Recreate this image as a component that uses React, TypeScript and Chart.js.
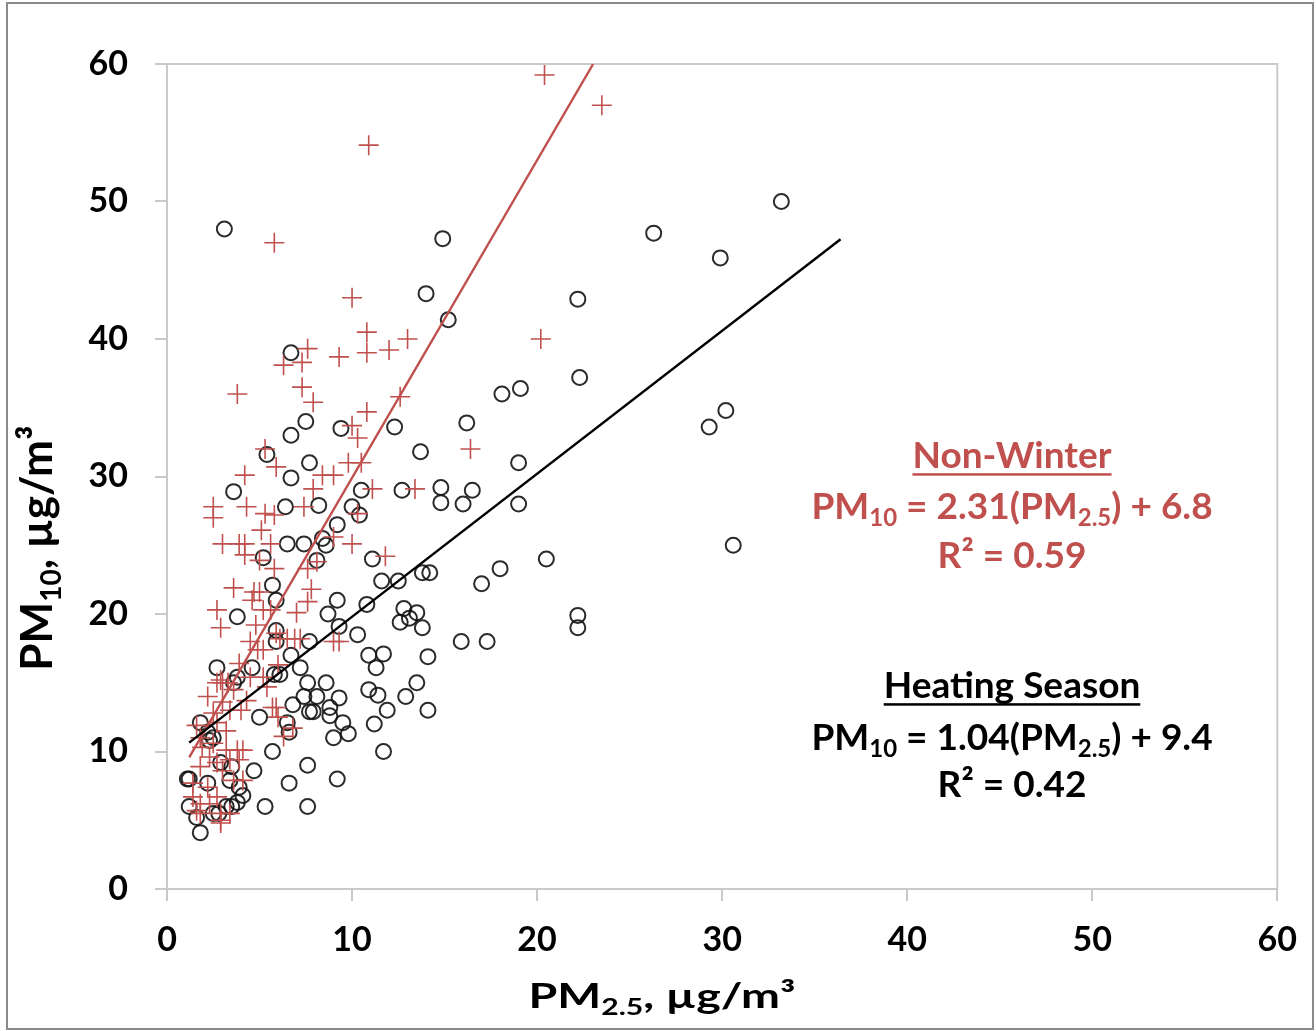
import React, { useEffect, useRef } from "react";
import { Chart, registerables } from "chart.js";

Chart.register(...registerables);

// ---------------- DATA ----------------
// Heating season (black circles)
const heatingPM25 = [
  3.1, 14.9, 26.3, 29.9, 33.2, 14.0, 22.2, 15.2, 6.7, 19.1, 18.1, 22.3, 7.5, 29.3, 30.2, 9.4, 12.3, 16.2, 13.7, 5.4,
  6.7, 6.7, 7.7, 19.0, 3.6, 10.5, 12.7, 14.8, 16.5, 16.0, 14.8, 19.0, 6.4, 8.2, 10.0, 10.4, 9.2, 8.4, 8.6, 7.4,
  6.5, 30.6, 20.5, 11.1, 5.2, 8.1, 13.8, 14.2, 18.0, 17.0, 12.5, 11.6, 5.7, 22.2, 22.2, 15.9, 17.3, 12.8, 13.5, 12.6,
  13.1, 13.8, 9.2, 10.8, 8.7, 9.3, 10.3, 7.7, 5.9, 3.8, 5.9, 5.9, 10.9, 11.7, 11.3, 14.1, 6.7, 7.2, 2.7, 4.6,
  5.8, 6.1, 3.8, 3.6, 7.6, 8.6, 7.4, 8.1, 9.3, 13.5, 12.9, 10.9, 11.4, 11.9, 14.1, 7.7, 7.9, 8.8, 8.8, 9.5,
  9.8, 9.0, 11.2, 11.7, 7.6, 9.2, 7.6, 6.8, 1.8, 5.0, 6.5, 6.6, 2.2, 5.7, 1.1, 1.2, 2.2, 2.9, 3.5, 4.7,
  6.6, 4.1, 3.8, 3.5, 3.2, 1.2, 1.6, 2.5, 2.8, 1.8, 5.3, 2.3, 2.5, 3.9, 3.4,
];
const heatingPM10 = [
  48.0, 47.3, 47.7, 45.9, 50.0, 43.3, 42.9, 41.4, 39.0, 36.4, 36.0, 37.2, 34.0, 33.6, 34.8, 33.5, 33.6, 33.9, 31.8, 31.6,
  33.0, 29.9, 31.0, 31.0, 28.9, 29.0, 29.0, 29.2, 29.0, 28.0, 28.1, 28.0, 27.8, 27.9, 27.8, 27.2, 26.5, 25.5, 25.0, 25.1,
  25.1, 25.0, 24.0, 24.0, 24.1, 23.9, 23.0, 23.0, 23.3, 22.2, 22.4, 22.4, 22.1, 19.9, 19.0, 18.0, 18.0, 20.4, 20.1, 19.4,
  19.7, 19.0, 21.0, 20.7, 20.0, 19.1, 18.5, 18.0, 21.0, 19.8, 18.8, 18.0, 17.0, 17.1, 16.1, 16.9, 17.0, 16.1, 16.1, 16.1,
  15.6, 15.6, 15.4, 15.0, 15.0, 15.0, 14.0, 14.0, 13.9, 15.0, 14.0, 14.5, 14.1, 13.0, 13.0, 12.9, 12.9, 13.2, 12.6, 12.1,
  11.3, 11.0, 12.0, 10.0, 9.0, 8.0, 6.0, 13.4, 12.1, 12.5, 12.1, 11.4, 11.4, 10.0, 8.0, 8.0, 7.7, 9.2, 8.9, 8.6,
  7.7, 6.8, 6.3, 6.0, 6.0, 6.0, 5.2, 5.5, 5.5, 4.1, 6.0, 10.8, 11.0, 7.4, 7.9,
];

// Non-winter (red crosses)
const nonWinterPM25 = [
  20.4, 23.5, 10.9, 5.8, 10.0, 20.2, 10.8, 10.8, 12.0, 13.0, 7.6, 6.3, 7.3, 9.3, 3.8, 7.3, 7.9, 12.6, 10.8, 10.0,
  10.3, 5.3, 5.9, 9.8, 10.5, 4.2, 8.4, 9.0, 7.9, 11.1, 2.5, 2.5, 4.3, 5.3, 5.8, 7.4, 10.3, 3.0, 3.9, 4.2,
  5.6, 9.0, 10.0, 16.4, 13.4, 11.8, 4.2, 5.0, 5.8, 7.6, 8.1, 3.6, 4.7, 5.0, 2.7, 2.9, 5.2, 5.6, 7.0, 7.6,
  5.9, 6.1, 6.5, 6.9, 7.2, 9.0, 9.3, 4.5, 4.9, 5.2, 3.9, 2.9, 2.7, 3.0, 3.3, 3.6, 4.5, 5.2, 5.4, 4.3,
  3.0, 4.0, 3.4, 5.7, 5.9, 6.0, 6.8, 6.3, 1.6, 2.7, 1.8, 1.9, 2.5, 3.2, 3.8, 4.1, 2.3, 2.7, 3.4, 3.9,
  1.8, 3.0, 1.4, 2.2, 3.6, 4.1, 1.4, 1.8, 2.3, 2.7, 1.6, 1.8, 2.9, 2.9, 3.4, 2.9, 5.1, 4.6, 6.0, 4.8,
  7.8, 2.2, 2.5, 3.2,
];
const nonWinterPM10 = [
  59.2, 57.0, 54.1, 47.0, 43.0, 40.0, 40.5, 39.0, 39.2, 40.0, 39.3, 38.1, 38.3, 38.7, 36.0, 36.5, 35.4, 35.8, 34.7, 33.7,
  32.8, 32.0, 30.7, 31.0, 31.0, 30.1, 30.1, 30.1, 29.1, 29.1, 27.8, 27.0, 27.8, 27.3, 27.2, 27.8, 27.3, 25.1, 25.1, 25.1,
  25.1, 25.6, 25.1, 32.0, 29.1, 24.2, 24.3, 23.9, 23.3, 23.3, 23.8, 21.9, 21.6, 21.6, 20.3, 19.0, 20.3, 20.3, 20.1, 20.9,
  18.6, 18.2, 18.2, 18.2, 18.2, 18.0, 18.0, 18.0, 17.4, 17.4, 16.4, 15.2, 15.0, 15.0, 15.0, 14.5, 15.4, 15.4, 14.7, 13.7,
  13.6, 13.0, 13.0, 13.2, 13.2, 12.5, 11.7, 11.1, 11.9, 12.1, 11.0, 10.3, 10.6, 10.1, 10.1, 10.1, 9.6, 9.2, 9.4, 9.4,
  8.9, 8.6, 7.7, 7.4, 7.9, 7.9, 6.7, 6.2, 6.2, 6.7, 5.7, 5.5, 5.5, 5.0, 5.5, 4.8, 26.1, 21.0, 16.3, 19.2,
  21.8, 14.0, 12.8, 11.5,
];

// Trend lines: [slope, intercept], drawn over [xStart, xEnd]
const nonWinterFit = [2.31, 6.8];
const nonWinterFitRange = [1.2, 23.03];
const heatingFit = [1.04, 9.4];
const heatingFitRange = [1.2, 36.4];

// Axis
const axisMin = 0;
const axisMax = 60;
const axisStep = 10;
const xTitle = "PM_{2.5}, µg/m³";
const yTitle = "PM_{10}, µg/m³";

// Annotation texts
const nonWinterText = ["Non-Winter", "PM_{10} = 2.31(PM_{2.5}) + 6.8", "R² = 0.59"];
const heatingText = ["Heating Season", "PM_{10} = 1.04(PM_{2.5}) + 9.4", "R² = 0.42"];

// ---------------- STYLE ----------------
const FONT = "Lato";
const RED = "#C0504D";
const W = 1316;
const H = 1031;

type Part = { t: string; sub: boolean };
function parseRich(s: string): Part[] {
  const parts: Part[] = [];
  const re = /_\{([^}]*)\}/g;
  let last = 0;
  let m: RegExpExecArray | null;
  while ((m = re.exec(s))) {
    if (m.index > last) parts.push({ t: s.slice(last, m.index), sub: false });
    parts.push({ t: m[1], sub: true });
    last = re.lastIndex;
  }
  if (last < s.length) parts.push({ t: s.slice(last), sub: false });
  return parts;
}

function drawRich(
  ctx: CanvasRenderingContext2D,
  s: string,
  cx: number,
  by: number,
  size: number,
  color: string,
  underline = false,
  targetWidth = 0
) {
  const parts = parseRich(s);
  const fontFor = (p: Part) => `bold ${p.sub ? Math.round(size * 0.64) : size}px ${FONT}`;
  let total = 0;
  const widths = parts.map((p) => {
    ctx.font = fontFor(p);
    const w = ctx.measureText(p.t).width;
    total += w;
    return w;
  });
  const sx = targetWidth > 0 ? targetWidth / total : 1;
  ctx.save();
  ctx.translate(cx, by);
  ctx.scale(sx, 1);
  let x = -total / 2;
  ctx.fillStyle = color;
  ctx.textAlign = "left";
  ctx.textBaseline = "alphabetic";
  parts.forEach((p, i) => {
    ctx.font = fontFor(p);
    ctx.fillText(p.t, x, p.sub ? size * 0.2 : 0);
    x += widths[i];
  });
  if (underline) {
    ctx.fillRect(-total / 2, size * 0.14, total, 2.5);
  }
  ctx.restore();
  return total * sx;
}

const framePlugin = {
  id: "plotFrame",
  beforeDatasetsDraw(chart: any) {
    const { ctx, chartArea } = chart;
    ctx.save();
    ctx.strokeStyle = "#c9c9c9";
    ctx.lineWidth = 2;
    ctx.strokeRect(chartArea.left, chartArea.top, chartArea.right - chartArea.left, chartArea.bottom - chartArea.top);
    ctx.restore();
  },
};

const textPlugin = {
  id: "richText",
  afterDraw(chart: any) {
    const ctx: CanvasRenderingContext2D = chart.ctx;
    ctx.save();
    // axis titles
    drawRich(ctx, xTitle, 662, 1008, 34, "#000", false, 267);
    ctx.save();
    ctx.translate(52, 548);
    ctx.rotate(-Math.PI / 2);
    drawRich(ctx, yTitle, 0, 0, 44, "#000");
    ctx.restore();
    // annotations
    const cx = 1012;
    drawRich(ctx, nonWinterText[0], cx, 468, 37, RED, true);
    drawRich(ctx, nonWinterText[1], cx, 519, 37, RED);
    drawRich(ctx, nonWinterText[2], cx, 568, 37, RED);
    drawRich(ctx, heatingText[0], cx, 698, 37, "#000", true);
    drawRich(ctx, heatingText[1], cx, 750, 37, "#000");
    drawRich(ctx, heatingText[2], cx, 797, 37, "#000");
    ctx.restore();
  },
};

function toPoints(xs: number[], ys: number[]) {
  return xs.map((x, i) => ({ x, y: ys[i] }));
}
function fitLine(fit: number[], range: number[]) {
  return range.map((x) => ({ x, y: fit[0] * x + fit[1] }));
}

export default function App() {
  const ref = useRef<HTMLCanvasElement | null>(null);

  useEffect(() => {
    if (!ref.current) return;
    const tickFont = { family: FONT, size: 34, weight: "bold" as const };
    const chart = new Chart(ref.current, {
      type: "scatter",
      data: {
        datasets: [
          {
            type: "line",
            label: "Heating fit",
            data: fitLine(heatingFit, heatingFitRange),
            borderColor: "#000",
            borderWidth: 2.4,
            pointRadius: 0,
            showLine: true,
            fill: false,
            order: 0,
          } as any,
          {
            type: "line",
            label: "Non-Winter fit",
            data: fitLine(nonWinterFit, nonWinterFitRange),
            borderColor: RED,
            borderWidth: 2.4,
            pointRadius: 0,
            showLine: true,
            fill: false,
            order: 0,
          } as any,
          {
            label: "Non-Winter",
            data: toPoints(nonWinterPM25, nonWinterPM10),
            pointStyle: "cross",
            pointRadius: 10,
            borderColor: RED,
            borderWidth: 1.6,
            backgroundColor: RED,
            order: 1,
          },
          {
            label: "Heating Season",
            data: toPoints(heatingPM25, heatingPM10),
            pointStyle: "circle",
            pointRadius: 7.5,
            borderColor: "rgba(20,20,20,0.9)",
            backgroundColor: "rgba(0,0,0,0)",
            borderWidth: 2,
            order: 2,
          },
        ],
      },
      options: {
        responsive: false,
        animation: false,
        devicePixelRatio: 1,
        layout: { padding: { left: 0, right: 37, top: 64, bottom: 0 } },
        plugins: { legend: { display: false }, tooltip: { enabled: false } },
        scales: {
          x: {
            type: "linear",
            min: axisMin,
            max: axisMax,
            ticks: { stepSize: axisStep, font: tickFont, color: "#000", padding: 19 },
            grid: { drawOnChartArea: false, drawTicks: true, tickLength: 12, color: "#c9c9c9", lineWidth: 2 },
            border: { display: false },
            afterFit: (s: any) => {
              s.height = 142;
            },
          },
          y: {
            type: "linear",
            min: axisMin,
            max: axisMax,
            ticks: { stepSize: axisStep, font: tickFont, color: "#000", padding: 27 },
            grid: { drawOnChartArea: false, drawTicks: true, tickLength: 12, color: "#c9c9c9", lineWidth: 2 },
            border: { display: false },
            afterFit: (s: any) => {
              s.width = 167;
            },
          },
        },
      },
      plugins: [framePlugin, textPlugin],
    });
    return () => chart.destroy();
  }, []);

  return (
    <div style={{ position: "absolute", left: 0, top: 0, width: W, height: H, background: "#fff" }}>
      <canvas ref={ref} width={W} height={H} style={{ position: "absolute", left: 0, top: 0 }} />
      <div
        style={{
          position: "absolute",
          left: 6,
          top: 2,
          width: 1308,
          height: 1028,
          border: "2px solid #8a8a8a",
          boxSizing: "border-box",
          pointerEvents: "none",
        }}
      />
    </div>
  );
}
